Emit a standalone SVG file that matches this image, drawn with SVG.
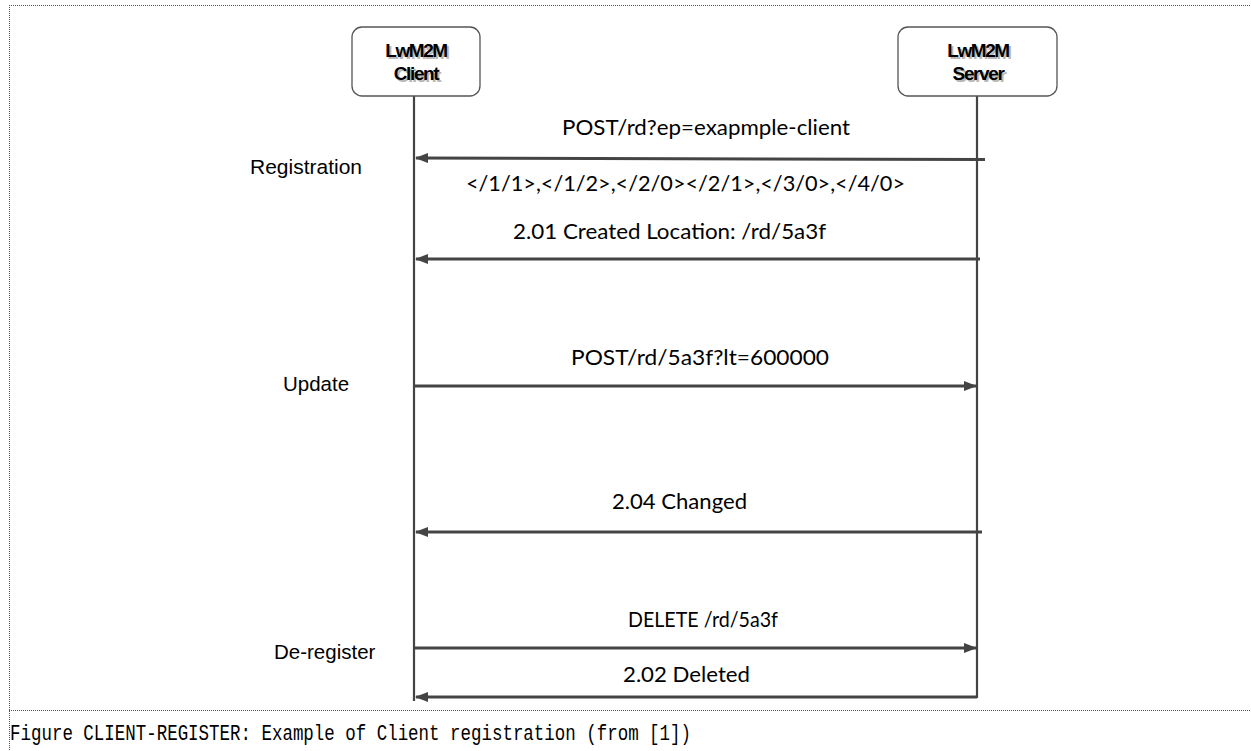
<svg xmlns="http://www.w3.org/2000/svg" width="1251" height="751" viewBox="0 0 1251 751">
<style>
.frame{stroke:#555;stroke-width:1;stroke-dasharray:1 1;fill:none}
.box{fill:#fff;stroke:#555;stroke-width:1.3}
.life{stroke:#444;stroke-width:2.2;fill:none}
.msg{stroke:#444;stroke-width:3;fill:none}
.hdr{font-family:"Liberation Sans",Arial,sans-serif;font-weight:bold;font-size:19px;letter-spacing:-1.4px;text-anchor:middle;fill:#000}
.hdrs{font-family:"Liberation Sans",Arial,sans-serif;font-weight:bold;font-size:19px;letter-spacing:-1.4px;text-anchor:middle;fill:#b8b8b8}
.lbl{font-family:Lato,"Open Sans",sans-serif;font-size:21px;fill:#000}
.side{font-family:"Liberation Sans",Arial,sans-serif;font-size:20.5px;fill:#000}
.cap{font-family:"Liberation Mono","DejaVu Sans Mono",monospace;font-size:22px;fill:#000}
</style>
<defs>
<marker id="ah" viewBox="0 0 13 10" refX="12" refY="5" markerWidth="13" markerHeight="10" markerUnits="userSpaceOnUse" orient="auto">
<path d="M0,0 L13,5 L0,10 Z" fill="#444"/>
</marker>
</defs>
<rect width="1251" height="751" fill="#fff"/>
<g id="frame">
<line class="frame" x1="9" y1="5.5" x2="1251" y2="5.5"/>
<line class="frame" x1="9.5" y1="5" x2="9.5" y2="751"/>
<line class="frame" x1="9" y1="710.5" x2="1251" y2="710.5"/>
</g>
<g id="lifelines">
<line class="life" x1="414" y1="96" x2="414" y2="701"/>
<line class="life" x1="977" y1="96" x2="977" y2="698"/>
</g>
<g id="client">
<rect class="box" x="352" y="27" width="128" height="69" rx="10"/>
<text class="hdrs" x="418" y="59">LwM2M</text>
<text class="hdr" x="416" y="57">LwM2M</text>
<text class="hdrs" x="418" y="82">Client</text>
<text class="hdr" x="416" y="80">Client</text>
</g>
<g id="server">
<rect class="box" x="898" y="27" width="159" height="69" rx="10"/>
<text class="hdrs" x="980" y="59">LwM2M</text>
<text class="hdr" x="978" y="57">LwM2M</text>
<text class="hdrs" x="980" y="82">Server</text>
<text class="hdr" x="978" y="80">Server</text>
</g>
<g id="phases">
<text class="side" x="250" y="174" textLength="112" lengthAdjust="spacingAndGlyphs">Registration</text>
<text class="side" x="283" y="391">Update</text>
<text class="side" x="274" y="659">De-register</text>
</g>
<g id="connectors">
<line class="msg" x1="985" y1="159.5" x2="416" y2="158" marker-end="url(#ah)"/>
<line class="msg" x1="980" y1="259" x2="416" y2="259" marker-end="url(#ah)"/>
<line class="msg" x1="414" y1="386" x2="976" y2="386" marker-end="url(#ah)"/>
<line class="msg" x1="982" y1="532" x2="416" y2="532" marker-end="url(#ah)"/>
<line class="msg" x1="414" y1="648" x2="976" y2="648" marker-end="url(#ah)"/>
<line class="msg" x1="977" y1="697" x2="416" y2="697" marker-end="url(#ah)"/>
</g>
<g id="labels">
<text class="lbl" x="562" y="135" textLength="288" lengthAdjust="spacingAndGlyphs">POST/rd?ep=exapmple-client</text>
<text class="lbl" x="466" y="191" textLength="439" lengthAdjust="spacingAndGlyphs">&lt;/1/1&gt;,&lt;/1/2&gt;,&lt;/2/0&gt;&lt;/2/1&gt;,&lt;/3/0&gt;,&lt;/4/0&gt;</text>
<text class="lbl" x="513" y="239" textLength="313" lengthAdjust="spacingAndGlyphs">2.01 Created Location: /rd/5a3f</text>
<text class="lbl" x="571" y="365" textLength="258" lengthAdjust="spacingAndGlyphs">POST/rd/5a3f?lt=600000</text>
<text class="lbl" x="612" y="509" textLength="135" lengthAdjust="spacingAndGlyphs">2.04 Changed</text>
<text class="lbl" x="628" y="627" textLength="150" lengthAdjust="spacingAndGlyphs">DELETE /rd/5a3f</text>
<text class="lbl" x="623" y="682" textLength="127" lengthAdjust="spacingAndGlyphs">2.02 Deleted</text>
</g>
<g id="caption">
<text class="cap" x="10" y="740" textLength="681" lengthAdjust="spacingAndGlyphs">Figure CLIENT-REGISTER: Example of Client registration (from [1])</text>
</g>
</svg>
